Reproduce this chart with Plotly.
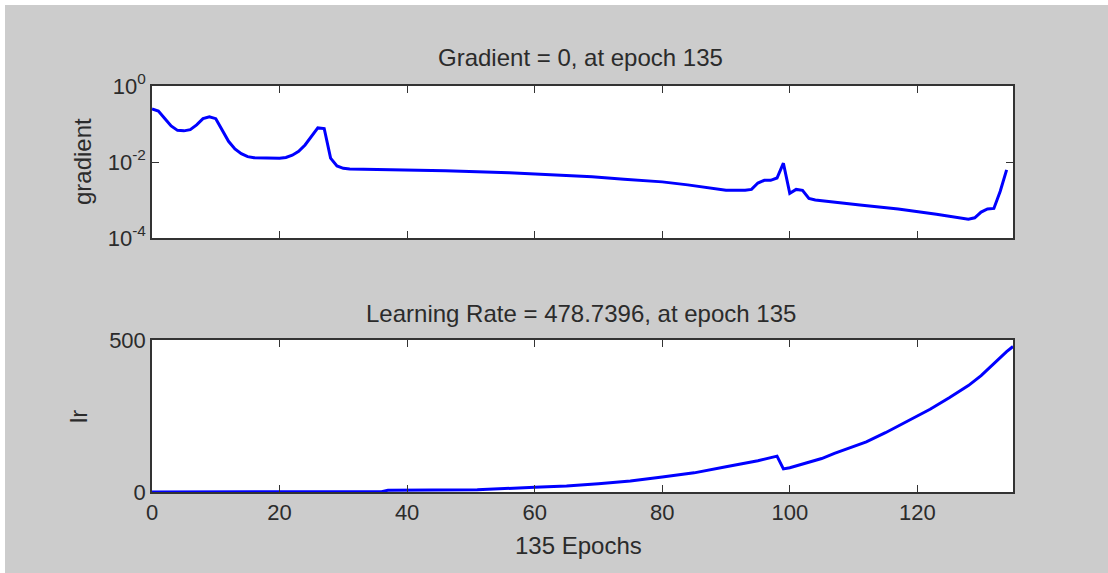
import plotly.graph_objects as go
from plotly.subplots import make_subplots

# ---- data ----
grad_epochs = [0, 1, 2, 3, 4, 5, 6, 7, 8, 9, 10, 11, 12, 13, 14, 15, 16,
               20, 21, 22, 23, 24, 25, 26, 27, 28, 29, 30, 31,
               35, 46, 56, 63, 69, 74, 80, 84, 88, 90, 93,
               94, 95, 96, 97, 98, 99, 100, 101, 102, 103, 104,
               111, 117, 123, 127, 128, 129, 130, 131, 132, 133, 134]
grad_values = [0.25, 0.22, 0.14, 0.089, 0.068, 0.066, 0.071, 0.095, 0.138, 0.155, 0.138, 0.071, 0.035, 0.022, 0.0166, 0.0138, 0.0129,
               0.0126, 0.0132, 0.0151, 0.019, 0.028, 0.047, 0.079, 0.076, 0.0126, 0.0079, 0.0068, 0.0065,
               0.0063, 0.0059, 0.0052, 0.0046, 0.0041, 0.0035, 0.0030, 0.0025, 0.0020, 0.0018, 0.0018,
               0.0019, 0.0028, 0.0033, 0.0033, 0.0038, 0.0093, 0.0015, 0.0019, 0.0018, 0.0011, 0.0010,
               0.00074, 0.00058, 0.00042, 0.00032, 0.00031, 0.00034, 0.00048, 0.00058, 0.0006, 0.0017, 0.0062]

lr_epochs = [0, 36, 37, 51, 60, 65, 70, 75, 80, 85, 90, 95, 98, 99, 100, 102, 105, 107,
             110, 112, 115, 117, 120, 122, 125, 128, 130, 132, 134, 135]
lr_values = [0.01, 1, 6, 7, 16, 20, 27, 36, 49, 63, 83, 103, 118, 76, 80, 92, 110, 127,
             150, 165, 195, 217, 250, 272, 310, 350, 383, 423, 462, 478.7396]

x_ticks = [0, 20, 40, 60, 80, 100, 120]
grad_tickvals = [1, 0.01, 0.0001]
grad_ticktext = ["10<sup>0</sup>", "10<sup>-2</sup>", "10<sup>-4</sup>"]
lr_tickvals = [0, 500]

title_top = "Gradient = 0, at epoch 135"
title_bottom = "Learning Rate = 478.7396, at epoch 135"
x_label = "135 Epochs"
y_label_top = "gradient"
y_label_bottom = "lr"

# ---- figure ----
W, H = 1108, 573
L, R, T, B = 152, 95, 86, 81
plot_w = W - L - R
plot_h = H - T - B

def px_x(p):
    return (p - L) / plot_w

def px_y(p):
    return (H - B - p) / plot_h

FONT = "Liberation Sans, Arial, sans-serif"
TXT = "#2b2b2b"
AX = "#333333"
BLUE = "#0000FF"

fig = make_subplots(rows=2, cols=1, vertical_spacing=(102 / plot_h))

fig.add_trace(go.Scatter(x=grad_epochs, y=grad_values, mode="lines",
                         line=dict(color=BLUE, width=3), showlegend=False), row=1, col=1)
fig.add_trace(go.Scatter(x=lr_epochs, y=lr_values, mode="lines",
                         line=dict(color=BLUE, width=3), showlegend=False), row=2, col=1)

axis_common = dict(showline=True, linecolor=AX, linewidth=1.5, mirror="ticks",
                   ticks="inside", ticklen=7, tickwidth=1.2, tickcolor=AX,
                   showgrid=False, zeroline=False,
                   tickfont=dict(family=FONT, size=22, color=TXT))

fig.update_xaxes(range=[0, 135], tickvals=x_ticks, **axis_common)
fig.update_xaxes(showticklabels=False, row=1, col=1)
fig.update_yaxes(type="log", range=[-4, 0], tickvals=grad_tickvals, ticktext=grad_ticktext,
                 row=1, col=1, **axis_common)
fig.update_yaxes(range=[0, 500], tickvals=lr_tickvals, row=2, col=1, **axis_common)

fig.update_layout(
    width=W, height=H,
    margin=dict(l=L, r=R, t=T, b=B, pad=0),
    paper_bgcolor="#CCCCCC",
    plot_bgcolor="white",
    font=dict(family=FONT, size=24, color=TXT),
)

fig.layout.yaxis.domain = [1 - 152 / plot_h, 1]
fig.layout.yaxis2.domain = [0, 152 / plot_h]

ann = [
    dict(text=title_top, x=px_x(580), y=px_y(57), textangle=0),
    dict(text=title_bottom, x=px_x(581), y=px_y(313), textangle=0),
    dict(text=x_label, x=px_x(578), y=px_y(545), textangle=0),
    dict(text=y_label_top, x=px_x(82), y=px_y(162), textangle=-90),
    dict(text=y_label_bottom, x=px_x(78), y=px_y(417), textangle=-90),
]
for a in ann:
    fig.add_annotation(xref="paper", yref="paper", xanchor="center", yanchor="middle",
                       showarrow=False, font=dict(family=FONT, size=24, color=TXT), **a)

# thin white frame on the left and top edge of the window grab
fig.add_shape(type="rect", xref="paper", yref="paper", x0=px_x(-2), x1=px_x(5),
              y0=px_y(H + 2), y1=px_y(-2), fillcolor="white", line=dict(width=0), layer="below")
fig.add_shape(type="rect", xref="paper", yref="paper", x0=px_x(-2), x1=px_x(W + 2),
              y0=px_y(5), y1=px_y(-2), fillcolor="white", line=dict(width=0), layer="below")

fig.write_html("out.html", config={"displayModeBar": False},
               post_script="document.body.style.margin='0px';document.body.style.overflow='hidden';")
